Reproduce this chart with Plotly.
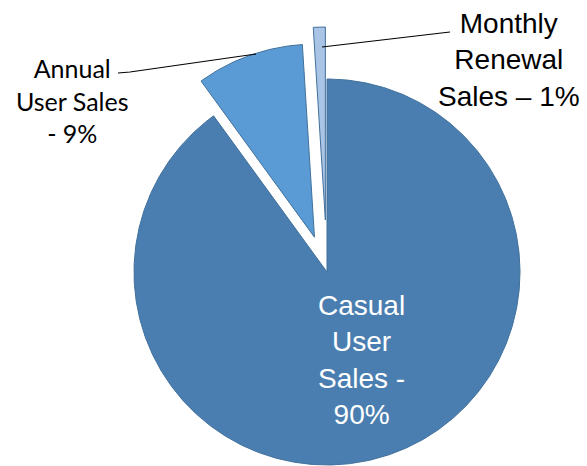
import math
import plotly.graph_objects as go

# Sales breakdown by customer type (percent of total)
categories = ["Casual User Sales", "Annual User Sales", "Monthly Renewal Sales"]
values = [90, 9, 1]
label_templates = [
    "Casual<br>User<br>Sales -<br>{pct}%",
    "Annual<br>User Sales<br>- {pct}%",
    "Monthly<br>Renewal<br>Sales \u2013 {pct}%",
]

# Styling and geometry (pixel coordinates on a 587x466 canvas)
fills = ["#4A7EB0", "#5B9BD5", "#AAC4E6"]
edge_color = "#41719C"
explode_px = [0, 37, 52]
cx, cy, radius = 327, 272, 193
W, H = 587, 466


def wedge(start_deg, end_deg, shift):
    """Polygon for a slice measured clockwise from 12 o'clock."""
    mid = math.radians((start_deg + end_deg) / 2)
    ox = cx + shift * math.sin(mid)
    oy = cy - shift * math.cos(mid)
    steps = max(4, int(abs(end_deg - start_deg) * 2))
    xs, ys = [ox], [oy]
    for i in range(steps + 1):
        a = math.radians(start_deg + (end_deg - start_deg) * i / steps)
        xs.append(ox + radius * math.sin(a))
        ys.append(oy - radius * math.cos(a))
    xs.append(ox)
    ys.append(oy)
    return xs, ys


fig = go.Figure()
total = sum(values)
acc = 0.0
for name, v, color, shift in zip(categories, values, fills, explode_px):
    start = 360.0 * acc / total
    acc += v
    end = 360.0 * acc / total
    xs, ys = wedge(start, end, shift)
    fig.add_trace(go.Scatter(
        x=xs, y=ys, mode="lines", fill="toself", fillcolor=color,
        line=dict(color=edge_color, width=1), name=name,
        hoverinfo="name", showlegend=False,
    ))

# Data labels
label_pos = [(361, 360), (72, 100), (509, 60)]
label_fonts = [
    dict(family="Liberation Sans, Arial", size=28, color="white"),
    dict(family="Lato, Calibri", size=25, color="black"),
    dict(family="Liberation Sans, Arial", size=28, color="black"),
]
for tmpl, v, (lx, ly), fnt in zip(label_templates, values, label_pos, label_fonts):
    fig.add_annotation(
        x=lx, y=ly, xref="x", yref="y", text=tmpl.format(pct=v),
        showarrow=False, xanchor="center", yanchor="middle",
        align="center", font=fnt,
    )

# Leader lines
leader = dict(color="black", width=1.2)
fig.add_shape(type="path", path="M 118 73 L 130 72 L 256 54",
              xref="x", yref="y", line=leader, layer="above")
fig.add_shape(type="line", x0=322, y0=47, x1=450, y1=32,
              xref="x", yref="y", line=leader, layer="above")

fig.update_layout(
    width=W, height=H,
    margin=dict(l=0, r=0, t=0, b=0),
    paper_bgcolor="white", plot_bgcolor="white",
    xaxis=dict(range=[0, W], visible=False, fixedrange=True),
    yaxis=dict(range=[H, 0], visible=False, fixedrange=True),
)

fig.write_html("out.html")
